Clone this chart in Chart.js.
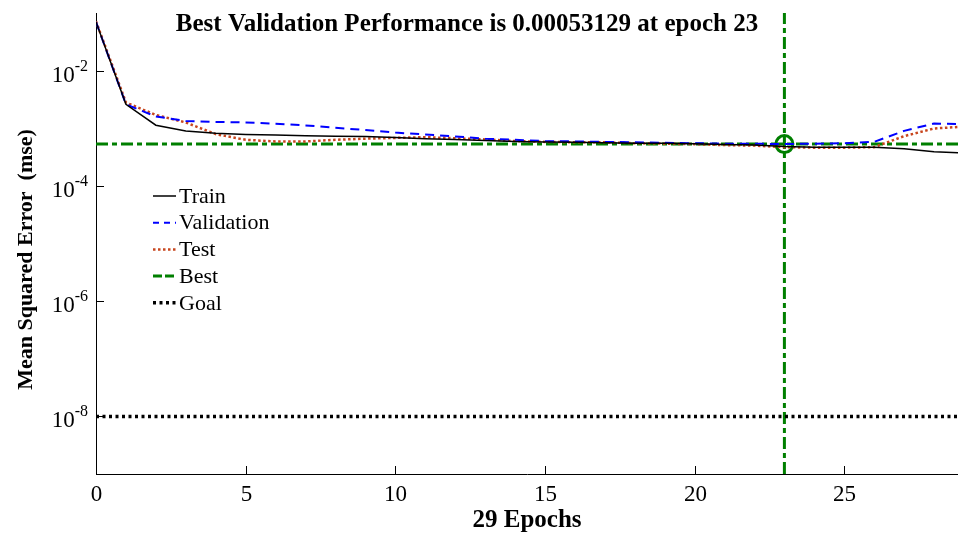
<!DOCTYPE html>
<html>
<head>
<meta charset="utf-8">
<script src="https://cdn.jsdelivr.net/npm/chart.js@4"></script>
<style>
  body { margin: 0; background: #fff; }
  canvas { display: block; }
</style>
</head>
<body>
<canvas id="perf" width="958" height="540"></canvas>
<script>
const epochs = [0, 1, 2, 3, 4, 5, 6, 7, 8, 9, 10, 11, 12, 13, 14, 15, 16, 17, 18, 19, 20, 21, 22, 23, 24, 25, 26, 27, 28, 29];
const trainPerf = [0.07, 0.0026, 0.00113, 0.0009, 0.00082, 0.00078, 0.00076, 0.00074, 0.00073, 0.00072, 0.00069, 0.00066, 0.00064, 0.00061, 0.00059, 0.00058, 0.00057, 0.00056, 0.00055, 0.00055, 0.00054, 0.00052, 0.00051, 0.00048, 0.00047, 0.00047, 0.00047, 0.00044, 0.00039, 0.00037];
const valPerf = [0.07, 0.0026, 0.0016, 0.00134, 0.00129, 0.00126, 0.0012, 0.00112, 0.00102, 0.00093, 0.00084, 0.00078, 0.00072, 0.00066, 0.00063, 0.0006, 0.00059, 0.00058, 0.00057, 0.00056, 0.00055, 0.00054, 0.00054, 0.00053129, 0.00054, 0.00055, 0.00058, 0.0009, 0.00121, 0.00118];
const testPerf = [0.072, 0.0028, 0.0017, 0.00126, 0.00079, 0.00063, 0.00059, 0.00059, 0.00063, 0.00066, 0.00068, 0.0007, 0.00067, 0.00064, 0.0006, 0.00058, 0.00057, 0.00057, 0.00055, 0.00054, 0.00053, 0.00051, 0.0005, 0.00047, 0.00046, 0.00046, 0.00047, 0.00073, 0.00099, 0.00107];

const bestEpoch = 23;
const bestPerf = 0.00053129;
const goalPerf = 1e-8;

const xTicks = [0, 5, 10, 15, 20, 25];
const yTicks = [1e-8, 1e-6, 1e-4, 1e-2];
const yTickExp = ['-8', '-6', '-4', '-2'];
const legendLabels = ['Train', 'Validation', 'Test', 'Best', 'Goal'];

const titleText = 'Best Validation Performance is 0.00053129 at epoch 23';
const xTitle = '29 Epochs';
const yTitle = 'Mean Squared Error  (mse)';

const serif = '"Liberation Serif", "Times New Roman", serif';

function pts(ys) {
    return epochs.map((e, i) => ({ x: e, y: ys[i] }));
}

const decorations = {
    id: 'decorations',
    afterDraw(chart) {
        const ctx = chart.ctx;
        const xs = chart.scales.x;
        const ys = chart.scales.y;
        const area = chart.chartArea;
        ctx.save();
        ctx.fillStyle = '#000';
        ctx.strokeStyle = '#000';
        ctx.lineWidth = 1;

        // x ticks and labels
        ctx.font = '23px ' + serif;
        ctx.textAlign = 'center';
        ctx.textBaseline = 'middle';
        xTicks.forEach(v => {
            const px = Math.round(xs.getPixelForValue(v)) + 0.5;
            ctx.beginPath();
            ctx.moveTo(px, area.bottom);
            ctx.lineTo(px, area.bottom - 8);
            ctx.stroke();
            ctx.fillText(String(v), px, area.bottom + 21);
        });

        // y ticks and labels (10 with superscript)
        yTicks.forEach((v, i) => {
            const py = Math.round(ys.getPixelForValue(v)) + 0.5;
            ctx.beginPath();
            ctx.moveTo(area.left, py);
            ctx.lineTo(area.left + 8, py);
            ctx.stroke();
            ctx.textAlign = 'right';
            ctx.font = '16px ' + serif;
            const expW = ctx.measureText(yTickExp[i]).width;
            ctx.fillText(yTickExp[i], area.left - 8, py - 5);
            ctx.font = '23px ' + serif;
            ctx.fillText('10', area.left - 8 - expW, py + 4);
        });

        // titles
        ctx.font = 'bold 25px ' + serif;
        ctx.textAlign = 'center';
        ctx.fillText(titleText, 467, 25);
        ctx.fillText(xTitle, (area.left + area.right) / 2, 521);
        ctx.font = 'bold 22px ' + serif;
        ctx.save();
        ctx.translate(26, (area.top + area.bottom) / 2 + 16);
        ctx.rotate(-Math.PI / 2);
        ctx.fillText(yTitle, 0, 0);
        ctx.restore();

        // legend
        ctx.font = '22px ' + serif;
        ctx.textAlign = 'left';
        legendLabels.forEach((label, i) => {
            const ds = chart.data.datasets[i];
            const y = 196 + i * 26.7;
            ctx.save();
            ctx.strokeStyle = ds.borderColor;
            ctx.lineWidth = ds.borderWidth;
            ctx.setLineDash(ds.legendDash || ds.borderDash || []);
            ctx.beginPath();
            ctx.moveTo(153, y);
            ctx.lineTo(176, y);
            ctx.stroke();
            ctx.restore();
            ctx.fillText(label, 179, y + 1);
        });
        ctx.restore();
    }
};

new Chart(document.getElementById('perf'), {
    type: 'line',
    data: {
        datasets: [
            {
                label: 'Train',
                data: pts(trainPerf),
                borderColor: '#000000',
                borderWidth: 1.5,
                pointRadius: 0,
                tension: 0
            },
            {
                label: 'Validation',
                data: pts(valPerf),
                borderColor: '#0000ff',
                borderWidth: 2,
                borderDash: [9, 6],
                legendDash: [6, 5],
                pointRadius: 0,
                tension: 0
            },
            {
                label: 'Test',
                data: pts(testPerf),
                borderColor: '#c8461e',
                borderWidth: 2.5,
                borderDash: [2.5, 2.5],
                pointRadius: 0,
                tension: 0
            },
            {
                label: 'Best',
                data: [{ x: 0, y: bestPerf }, { x: 29, y: bestPerf }],
                borderColor: '#007f00',
                borderWidth: 3,
                borderDash: [12, 4, 5, 4],
                legendDash: [9, 3],
                pointRadius: 0
            },
            {
                label: 'Goal',
                data: [{ x: 0, y: goalPerf }, { x: 29, y: goalPerf }],
                borderColor: '#000000',
                borderWidth: 3.5,
                borderDash: [3, 3.5],
                pointRadius: 0
            },
            {
                label: 'Best epoch',
                data: [{ x: bestEpoch, y: 1e-9 }, { x: bestEpoch, y: 1e-1 }],
                borderColor: '#007f00',
                borderWidth: 3,
                borderDash: [12, 4, 5, 4],
                pointRadius: 0
            },
            {
                label: 'Best point',
                data: [{ x: bestEpoch, y: bestPerf }],
                showLine: false,
                borderColor: '#007f00',
                backgroundColor: 'rgba(0,0,0,0)',
                borderWidth: 3,
                pointRadius: 8.5,
                pointStyle: 'circle'
            }
        ]
    },
    options: {
        responsive: false,
        animation: false,
        layout: { autoPadding: false, padding: { top: 13, right: 0, left: 0, bottom: 0 } },
        plugins: {
            legend: { display: false },
            tooltip: { enabled: false },
            title: { display: false }
        },
        scales: {
            x: {
                type: 'linear',
                min: 0,
                max: 28.8,
                grid: { display: false },
                border: { color: '#000', width: 1 },
                ticks: { display: false },
                afterFit: s => { s.height = 66; }
            },
            y: {
                type: 'logarithmic',
                min: 1e-9,
                max: 1e-1,
                grid: { display: false },
                border: { color: '#000', width: 1 },
                ticks: { display: false },
                afterFit: s => { s.width = 96; }
            }
        }
    },
    plugins: [decorations]
});
</script>
</body>
</html>
